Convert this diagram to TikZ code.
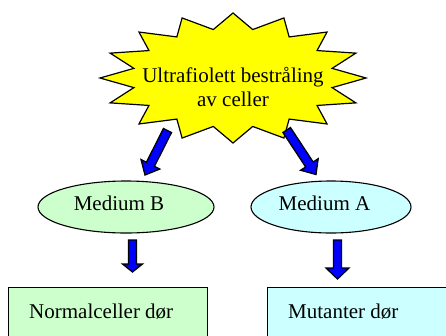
\documentclass[tikz,border=0pt]{standalone}
\usepackage{fontspec}
\setmainfont{Liberation Serif}
\usetikzlibrary{calc,shapes.geometric}
\definecolor{starY}{HTML}{FFFF00}
\definecolor{lgreen}{HTML}{CCFFCC}
\definecolor{lcyan}{HTML}{CCFFFF}
\definecolor{arrowblue}{HTML}{0000FF}
\tikzset{
  arrowstyle/.style={draw=black, fill=arrowblue, line width=1.3pt, line join=miter},
  medium/.style={ellipse, draw, line width=1.1pt, minimum height=52pt},
  resultbox/.style={draw, line width=1.1pt, minimum height=80pt, anchor=north west},
  txt/.style={font=\rmfamily\fontsize{21}{24}\selectfont, inner sep=0pt}
}
% tail, tip, shaft half-width, head half-width, head length
\newcommand{\blockarrow}[5]{%
  \coordinate (ba-h) at ($(#2)!#5!(#1)$);
  \draw[arrowstyle] ($(#1)!#3!90:(#2)$) -- ($(ba-h)!#3!90:(#2)$) -- ($(ba-h)!#4!90:(#2)$) -- (#2)
    -- ($(ba-h)!#4!-90:(#2)$) -- ($(ba-h)!#3!-90:(#2)$) -- ($(#1)!#3!-90:(#2)$) -- cycle;}
\begin{document}
\begin{tikzpicture}[x=1pt,y=-1pt]
\useasboundingbox (0,0) rectangle (446,335);
\clip (0,0) rectangle (446,335);
% starburst
\draw[fill=starY, line width=1.2pt, line join=miter]
  (233+133,78) \foreach \k in {0,...,15} {
    -- ({233+0.76*133*cos(22.5*\k+11.25)},{78+0.76*65*sin(22.5*\k+11.25)})
    -- ({233+133*cos(22.5*(\k+1))},{78+65*sin(22.5*(\k+1))})
  } -- cycle;
\node[txt, align=center] (uv) at (233,87) {Ultrafiolett bestråling\\av celler};
% media
\node[medium, fill=lgreen, minimum width=176pt] (mb) at (126,207) {};
\node[txt] (mbt) at (119,203) {Medium B};
\node[medium, fill=lcyan, minimum width=160pt] (ma) at (331,207) {};
\node[txt] (mat) at (324.5,203) {Medium A};
% result boxes
\node[resultbox, fill=lgreen, minimum width=199pt] (nb) at (8,287) {};
\node[resultbox, fill=lcyan, minimum width=200pt] (mbx) at (267,287) {};
\node[txt, anchor=base west] (nt) at (29,318) {Normalceller dør};
\node[txt, anchor=base west] (mt) at (288,318) {Mutanter dør};
% arrows
\coordinate (a1s) at (167.5,130.5);
\coordinate (a1e) at (145,175);
\coordinate (a2s) at (286.7,130);
\coordinate (a2e) at (316,174.5);
\coordinate (a3s) at (132.5,240);
\coordinate (a3e) at (132.5,272);
\coordinate (a4s) at (337.5,240);
\coordinate (a4e) at (337.5,279);
\blockarrow{a1s}{a1e}{4.5pt}{10.5pt}{12pt}
\blockarrow{a2s}{a2e}{4.5pt}{10.5pt}{12pt}
\blockarrow{a3s}{a3e}{4pt}{10pt}{8pt}
\blockarrow{a4s}{a4e}{4pt}{11.5pt}{11pt}
\end{tikzpicture}
\end{document}
